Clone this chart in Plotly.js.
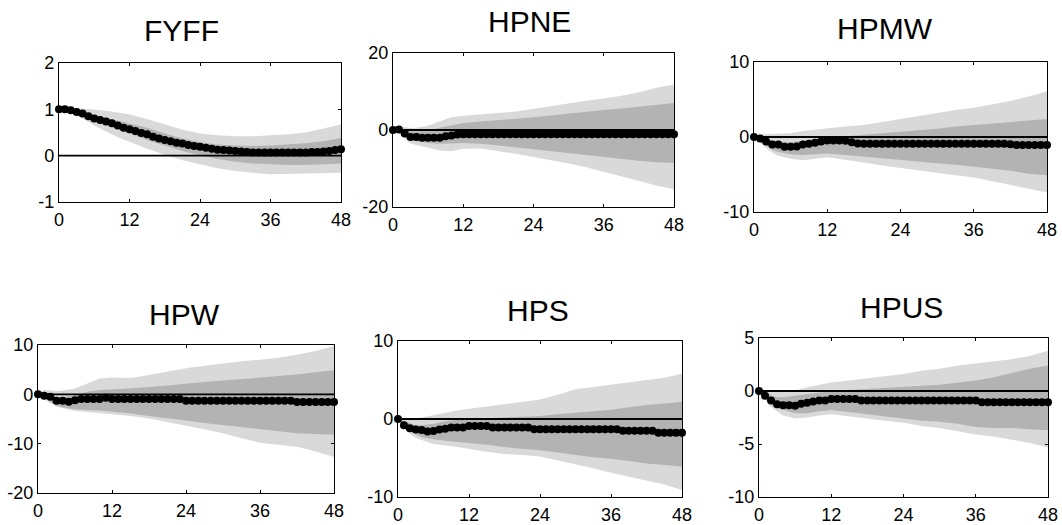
<!DOCTYPE html>
<html>
<head>
<meta charset="utf-8">
<script src="https://cdn.plot.ly/plotly-3.0.1.min.js"></script>
<style>html,body{margin:0;padding:0;background:#fff;}#chart{width:1062px;height:525px;}</style>
</head>
<body>
<div id="chart"></div>
<script>
// ---- data ----
const horizon = [];
for (let h = 0; h <= 48; h++) horizon.push(h);
const bandX = [0,1,2,3,4,6,8,10,12,15,18,21,24,27,30,33,36,39,42,45,48];
const xTicks = [0,12,24,36,48];
const xTickText = ["0","12","24","36","48"];
const titles = ["FYFF","HPNE","HPMW","HPW","HPS","HPUS"];

const fyffIrf = [1.0,1.0,0.98,0.94,0.91,0.85,0.8,0.77,0.74,0.7,0.65,0.6,0.57,0.53,0.49,0.46,0.41,0.37,0.34,0.31,0.28,0.26,0.23,0.21,0.19,0.17,0.15,0.13,0.12,0.11,0.1,0.09,0.08,0.07,0.07,0.07,0.07,0.07,0.07,0.07,0.07,0.07,0.07,0.08,0.08,0.09,0.1,0.12,0.14];
const fyffOuterUp = [1.0,1.02,1.03,1.03,1.02,1.0,0.97,0.93,0.89,0.79,0.67,0.56,0.48,0.44,0.42,0.42,0.44,0.46,0.5,0.58,0.67];
const fyffInnerUp = [1.0,1.0,0.99,0.97,0.95,0.88,0.82,0.76,0.7,0.6,0.48,0.37,0.29,0.24,0.22,0.21,0.22,0.24,0.27,0.31,0.38];
const fyffInnerLo = [1.0,0.98,0.95,0.91,0.87,0.76,0.67,0.57,0.48,0.34,0.22,0.1,0.01,-0.07,-0.13,-0.17,-0.19,-0.2,-0.2,-0.19,-0.17];
const fyffOuterLo = [1.0,0.97,0.92,0.87,0.8,0.65,0.52,0.4,0.3,0.15,0.02,-0.1,-0.19,-0.27,-0.33,-0.37,-0.4,-0.4,-0.39,-0.38,-0.37];
const fyffYTicks = [-1,0,1,2];
const fyffYTickText = ["-1","0","1","2"];

const hpneIrf = [0,0.1,-0.9,-1.8,-1.8,-2.0,-2.0,-2.0,-2.0,-1.6,-1.4,-1.2,-1.1,-1.1,-1.1,-1.1,-1.1,-1.1,-1.1,-1.1,-1.1,-1.1,-1.1,-1.1,-1.1,-1.1,-1.1,-1.1,-1.1,-1.1,-1.1,-1.1,-1.1,-1.1,-1.1,-1.1,-1.1,-1.1,-1.1,-1.1,-1.1,-1.1,-1.1,-1.1,-1.1,-1.1,-1.1,-1.1,-1.1];
const hpneOuterUp = [0,0.8,0.7,0.5,0.6,1.1,2.3,3.3,3.7,4.0,4.4,4.8,5.5,6.2,7.0,7.6,8.2,8.9,9.8,11.0,11.8];
const hpneInnerUp = [0,0.5,0.2,-0.3,-0.4,-0.1,0.6,1.3,1.8,2.2,2.5,2.9,3.3,3.8,4.2,4.7,5.2,5.6,6.1,6.6,7.0];
const hpneInnerLo = [0,-0.3,-1.5,-2.7,-3.0,-3.4,-3.6,-3.5,-3.4,-3.6,-4.0,-4.4,-4.9,-5.4,-5.9,-6.4,-7.0,-7.5,-8.0,-8.4,-8.6];
const hpneOuterLo = [0,-0.8,-2.3,-3.5,-4.0,-4.6,-5.3,-5.5,-4.9,-4.8,-5.5,-6.2,-7.0,-7.8,-8.7,-9.7,-10.8,-12.0,-13.2,-14.4,-15.4];
const hpneYTicks = [-20,0,20];
const hpneYTickText = ["-20","0","20"];

const hpmwIrf = [0,-0.2,-0.6,-1.0,-1.0,-1.3,-1.3,-1.25,-1.0,-0.9,-0.75,-0.6,-0.45,-0.45,-0.45,-0.5,-0.7,-0.85,-0.9,-0.9,-0.9,-0.9,-0.9,-0.9,-0.9,-0.9,-0.9,-0.9,-0.9,-0.9,-0.9,-0.9,-0.9,-0.9,-0.9,-0.9,-0.9,-0.9,-0.9,-0.9,-0.9,-0.9,-0.95,-1.05,-1.05,-1.05,-1.05,-1.05,-1.05];
const hpmwOuterUp = [0,0.4,0.4,0.4,0.4,0.5,0.8,1.0,1.2,1.4,1.6,2.0,2.5,2.9,3.2,3.6,3.9,4.3,4.8,5.4,6.1];
const hpmwInnerUp = [0,0.1,-0.2,-0.5,-0.6,-0.7,-0.5,-0.2,0.0,0.1,0.3,0.5,0.7,0.9,1.1,1.4,1.6,1.9,2.1,2.2,2.4];
const hpmwInnerLo = [0,-0.6,-1.2,-1.7,-2.0,-2.3,-2.4,-2.3,-2.2,-2.4,-2.6,-2.9,-3.1,-3.3,-3.5,-3.7,-3.9,-4.2,-4.5,-4.9,-5.1];
const hpmwOuterLo = [0,-0.8,-1.5,-2.1,-2.5,-2.9,-3.1,-2.9,-2.7,-3.0,-3.4,-3.8,-4.2,-4.5,-4.8,-5.1,-5.4,-5.9,-6.4,-6.9,-7.4];
const hpmwYTicks = [-10,0,10];
const hpmwYTickText = ["-10","0","10"];

const hpwIrf = [0,-0.3,-0.5,-1.3,-1.3,-1.5,-1.2,-0.95,-0.95,-0.95,-0.95,-0.7,-0.95,-0.95,-0.95,-0.95,-0.95,-0.95,-0.95,-0.95,-0.95,-0.95,-0.95,-0.95,-1.3,-1.3,-1.3,-1.3,-1.3,-1.3,-1.3,-1.3,-1.3,-1.3,-1.3,-1.3,-1.3,-1.3,-1.3,-1.3,-1.3,-1.3,-1.55,-1.55,-1.55,-1.55,-1.55,-1.55,-1.55];
const hpwOuterUp = [0,0.9,0.8,0.7,0.8,1.2,2.2,3.2,3.4,3.3,3.9,4.6,5.3,5.8,6.3,6.7,7.0,7.4,8.0,8.8,9.8];
const hpwInnerUp = [0,0.3,-0.2,-0.6,-0.6,-0.2,0.5,0.9,1.0,1.2,1.5,1.8,2.2,2.5,2.8,3.1,3.4,3.7,4.0,4.5,4.9];
const hpwInnerLo = [0,-0.7,-1.5,-2.2,-2.6,-3.0,-3.2,-3.3,-3.5,-3.9,-4.4,-4.9,-5.3,-5.8,-6.3,-6.7,-7.1,-7.5,-7.9,-8.1,-8.2];
const hpwOuterLo = [0,-1.0,-1.8,-2.5,-2.9,-3.4,-3.6,-3.8,-4.0,-4.4,-4.9,-5.6,-6.4,-7.1,-7.9,-8.9,-9.8,-10.2,-10.6,-11.6,-12.7];
const hpwYTicks = [-20,-10,0,10];
const hpwYTickText = ["-20","-10","0","10"];

const hpsIrf = [0,-0.8,-1.2,-1.35,-1.4,-1.6,-1.55,-1.35,-1.25,-1.1,-1.1,-1.1,-0.9,-0.9,-0.9,-0.9,-1.1,-1.1,-1.1,-1.1,-1.1,-1.1,-1.1,-1.3,-1.3,-1.3,-1.3,-1.3,-1.3,-1.3,-1.3,-1.3,-1.3,-1.3,-1.3,-1.3,-1.3,-1.3,-1.5,-1.5,-1.5,-1.5,-1.5,-1.5,-1.75,-1.75,-1.75,-1.75,-1.75];
const hpsOuterUp = [0,0.1,0.1,0.1,0.2,0.5,0.8,1.1,1.3,1.6,1.9,2.2,2.5,3.1,3.8,4.1,4.4,4.7,5.0,5.3,5.8];
const hpsInnerUp = [0,-0.3,-0.6,-0.8,-0.8,-0.6,-0.3,-0.1,0.0,0.1,0.2,0.3,0.4,0.6,0.8,1.0,1.2,1.5,1.8,2.0,2.2];
const hpsInnerLo = [0,-1.0,-1.6,-2.0,-2.3,-2.6,-2.8,-3.0,-3.1,-3.3,-3.6,-3.8,-4.0,-4.3,-4.6,-4.9,-5.1,-5.4,-5.7,-5.9,-6.1];
const hpsOuterLo = [0,-1.2,-1.9,-2.4,-2.7,-3.2,-3.4,-3.6,-3.8,-4.2,-4.5,-4.6,-4.8,-5.3,-5.8,-6.3,-6.9,-7.4,-7.9,-8.4,-9.1];
const hpsYTicks = [-10,0,10];
const hpsYTickText = ["-10","0","10"];

const hpusIrf = [0,-0.45,-0.9,-1.25,-1.35,-1.35,-1.4,-1.2,-1.1,-1.0,-0.9,-0.9,-0.75,-0.75,-0.75,-0.75,-0.75,-0.9,-0.9,-0.9,-0.9,-0.9,-0.9,-0.9,-0.9,-0.9,-0.9,-0.9,-0.9,-0.9,-0.9,-0.9,-0.9,-0.9,-0.9,-0.9,-0.9,-1.05,-1.05,-1.05,-1.05,-1.05,-1.05,-1.05,-1.05,-1.05,-1.05,-1.05,-1.05];
const hpusOuterUp = [0,0.05,0.05,0.0,0.0,0.05,0.35,0.6,0.8,1.0,1.2,1.4,1.6,1.9,2.1,2.4,2.6,2.8,3.0,3.3,3.8];
const hpusInnerUp = [0,-0.1,-0.4,-0.6,-0.6,-0.45,-0.3,-0.1,0.0,0.1,0.2,0.3,0.35,0.5,0.6,0.8,1.0,1.3,1.7,2.1,2.4];
const hpusInnerLo = [0,-0.6,-1.2,-1.6,-1.8,-2.1,-2.1,-1.9,-1.8,-2.0,-2.2,-2.4,-2.6,-2.8,-2.9,-3.1,-3.4,-3.5,-3.5,-3.6,-3.7];
const hpusOuterLo = [0,-0.8,-1.5,-1.9,-2.3,-2.6,-2.5,-2.3,-2.2,-2.4,-2.6,-2.8,-3.0,-3.3,-3.5,-3.8,-4.1,-4.3,-4.6,-4.9,-5.3];
const hpusYTicks = [-10,-5,0,5];
const hpusYTickText = ["-10","-5","0","5"];

// ---- assemble ----
const panels = [
  {irf: fyffIrf, ou: fyffOuterUp, iu: fyffInnerUp, il: fyffInnerLo, ol: fyffOuterLo, yt: fyffYTicks, ytt: fyffYTickText},
  {irf: hpneIrf, ou: hpneOuterUp, iu: hpneInnerUp, il: hpneInnerLo, ol: hpneOuterLo, yt: hpneYTicks, ytt: hpneYTickText},
  {irf: hpmwIrf, ou: hpmwOuterUp, iu: hpmwInnerUp, il: hpmwInnerLo, ol: hpmwOuterLo, yt: hpmwYTicks, ytt: hpmwYTickText},
  {irf: hpwIrf, ou: hpwOuterUp, iu: hpwInnerUp, il: hpwInnerLo, ol: hpwOuterLo, yt: hpwYTicks, ytt: hpwYTickText},
  {irf: hpsIrf, ou: hpsOuterUp, iu: hpsInnerUp, il: hpsInnerLo, ol: hpsOuterLo, yt: hpsYTicks, ytt: hpsYTickText},
  {irf: hpusIrf, ou: hpusOuterUp, iu: hpusInnerUp, il: hpusInnerLo, ol: hpusOuterLo, yt: hpusYTicks, ytt: hpusYTickText}
];

// plot boxes in pixels [left, right, top, bottom]
const W = 1062, H = 525;
const boxes = [
  [59,341,63,202],[393,674,53,207],[754,1047,62,212],
  [38,334,345,493],[398,682,341,497],[759,1048,338,497]
];
// title centres in pixels [x, y]
const titlePos = [[181,30],[529,21],[885,29],[184,314],[538,310],[901,307]];

const FONT = '"Liberation Sans", Arial, sans-serif';
const LIGHT = '#d9d9d9', DARK = '#b3b3b3';

const traces = [];
const layout = {
  width: W, height: H,
  margin: {l:0, r:0, t:0, b:0},
  paper_bgcolor: '#fff', plot_bgcolor: '#fff',
  showlegend: false,
  font: {family: FONT, size: 18, color: '#000'},
  annotations: []
};

function band(up, lo) {
  return {x: bandX.concat(bandX.slice().reverse()), y: up.concat(lo.slice().reverse())};
}

panels.forEach((p, i) => {
  const n = i + 1;
  const xa = n === 1 ? 'x' : 'x' + n;
  const ya = n === 1 ? 'y' : 'y' + n;
  const o = band(p.ou, p.ol);
  const inn = band(p.iu, p.il);
  traces.push({x: o.x, y: o.y, xaxis: xa, yaxis: ya, type: 'scatter', mode: 'lines',
    fill: 'toself', fillcolor: LIGHT, line: {width: 0, color: LIGHT}, hoverinfo: 'skip'});
  traces.push({x: inn.x, y: inn.y, xaxis: xa, yaxis: ya, type: 'scatter', mode: 'lines',
    fill: 'toself', fillcolor: DARK, line: {width: 0, color: DARK}, hoverinfo: 'skip'});
  traces.push({x: [0, 48], y: [0, 0], xaxis: xa, yaxis: ya, type: 'scatter', mode: 'lines',
    line: {color: '#000', width: 1.8}, hoverinfo: 'skip'});
  traces.push({x: horizon, y: p.irf, xaxis: xa, yaxis: ya, type: 'scatter', mode: 'markers',
    marker: {color: '#000', size: 8}, cliponaxis: false});

  const b = boxes[i];
  const common = {
    showgrid: false, zeroline: false, showline: true, linecolor: '#000', linewidth: 1.2,
    mirror: 'ticks', ticks: 'inside', ticklen: 3, tickwidth: 1, tickcolor: '#000',
    tickfont: {family: FONT, size: 18, color: '#000'}, fixedrange: true
  };
  layout['xaxis' + (n === 1 ? '' : n)] = Object.assign({}, common, {
    domain: [b[0] / W, b[1] / W], range: [0, 48], tickmode: 'array',
    tickvals: xTicks, ticktext: xTickText, anchor: ya, ticklabelstandoff: 1
  });
  layout['yaxis' + (n === 1 ? '' : n)] = Object.assign({}, common, {
    domain: [1 - b[3] / H, 1 - b[2] / H], range: [p.yt[0], p.yt[p.yt.length - 1]],
    tickmode: 'array', tickvals: p.yt, ticktext: p.ytt, anchor: xa, ticklabelstandoff: 0
  });
  layout.annotations.push({
    text: titles[i], xref: 'paper', yref: 'paper',
    x: titlePos[i][0] / W, y: 1 - titlePos[i][1] / H,
    xanchor: 'center', yanchor: 'middle', showarrow: false,
    font: {family: FONT, size: 30, color: '#000'}
  });
});

Plotly.newPlot('chart', traces, layout, {staticPlot: true, displayModeBar: false});
</script>
</body>
</html>
